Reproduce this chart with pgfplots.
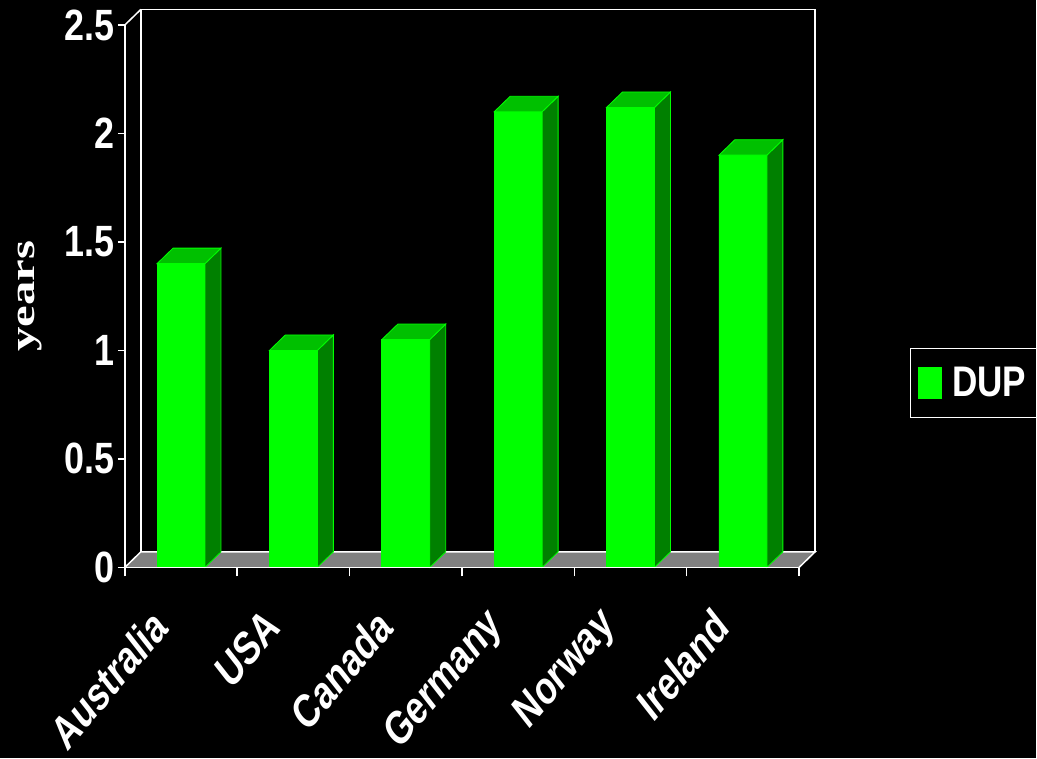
\documentclass[border=0pt]{standalone}
\usepackage{pgfplots}
\pgfplotsset{compat=1.18}
\usepackage{pgfplotstable}
\usepackage{fontspec}
\setmainfont{Liberation Sans}[FakeStretch=0.82]
\newfontfamily\catfont{Liberation Sans}[FakeStretch=0.87, FakeSlant=0.21]
\newfontfamily\serifbold{Liberation Serif}[FakeStretch=1.4]

\definecolor{barfront}{HTML}{00FF00}
\definecolor{bartop}{HTML}{00C000}
\definecolor{barside}{HTML}{008000}
\definecolor{floorgray}{HTML}{808080}

% mean duration of untreated psychosis, in years
\pgfplotstableread{
idx val
0 1.40
1 1.00
2 1.05
3 2.10
4 2.12
5 1.90
}\dupdata

% bar half-width and depth offset of the 3-D look, in axis units
\newcommand\bhw{0.2133}
\newcommand\bdx{0.142}
\newcommand\bdy{0.0714}

\begin{document}
\begin{tikzpicture}
\fill[black] (-125bp,-191bp) rectangle (912bp,568bp);
\begin{axis}[
  at={(0,0)}, anchor=south west,
  scale only axis, width=675bp, height=543bp,
  xmin=-0.5, xmax=5.5, ymin=0, ymax=2.5,
  clip=false,
  axis lines*=left,
  axis line style={draw=none},
  xtick={0,...,5},
  xticklabels={Australia,USA,Canada,Germany,Norway,Ireland},
  minor xtick={-0.5,0.5,1.5,2.5,3.5,4.5,5.5},
  ytick={0,0.5,1,1.5,2,2.5},
  tick align=outside,
  major tick length=7bp,
  minor tick length=9bp,
  tick style={white, line width=1.5bp},
  major x tick style={draw=none},
  minor x tick style={white, line width=1.5bp},
  /pgf/number format/assume math mode=true,
  yticklabel style={text=white, font=\bfseries\fontsize{44}{44}\selectfont, inner xsep=3bp},
  xticklabel style={xshift=-23bp, yshift=-46bp, rotate=50, anchor=east, inner sep=0pt,
    text=white, font=\catfont\bfseries\fontsize{43}{43}\selectfont},
  ylabel={years},
  ylabel style={at={(axis description cs:-0.141,0.5)}, anchor=center,
    text=white, font=\serifbold\bfseries\fontsize{35}{35}\selectfont},
  legend style={at={(axis description cs:1.164,0.34)}, anchor=west,
    draw=white, line width=1.5bp, fill=black, text=white,
    font=\bfseries\fontsize{43}{43}\selectfont, inner xsep=8bp, inner ysep=17bp},
]
% floor
\fill[floorgray] (axis cs:-0.5,0) -- (axis cs:5.5,0) -- (axis cs:5.5+\bdx,\bdy)
  -- (axis cs:-0.5+\bdx,\bdy) -- cycle;
% back wall edges
\draw[white, line width=1.5bp] (axis cs:-0.5,0) -- (axis cs:-0.5+\bdx,\bdy)
  -- (axis cs:5.5+\bdx,\bdy) -- (axis cs:5.5,0);
\draw[white, line width=1.5bp] (axis cs:-0.5+\bdx,\bdy) -- (axis cs:-0.5+\bdx,2.5+\bdy)
  -- (axis cs:5.5+\bdx,2.5+\bdy) -- (axis cs:5.5+\bdx,\bdy);
\draw[white, line width=1.5bp] (axis cs:-0.5,2.5) -- (axis cs:-0.5+\bdx,2.5+\bdy);

% front faces
\addplot[ybar, bar width=0.4267, fill=barfront, draw=barfront, line width=0.8bp,
  legend image code/.code={\fill[barfront] (0bp,-15.5bp) rectangle (23bp,15.5bp);
    \path (31bp,0bp);}]
  table[x=idx, y=val] {\dupdata};
\addlegendentry{DUP}

% side and top faces
\pgfplotsforeachungrouped \i in {0,...,5}{
  \pgfplotstablegetelem{\i}{val}\of\dupdata
  \pgfmathsetmacro\v{\pgfplotsretval}
  \pgfmathsetmacro\xl{\i-\bhw}
  \pgfmathsetmacro\xr{\i+\bhw}
  \pgfmathsetmacro\xlb{\i-\bhw+\bdx}
  \pgfmathsetmacro\xrb{\i+\bhw+\bdx}
  \pgfmathsetmacro\vb{\v+\bdy}
  \edef\doplot{%
    \noexpand\addplot[forget plot, fill=barside, draw=barfront, line width=0.8bp]
      coordinates {(\xr,0) (\xrb,\bdy) (\xrb,\vb) (\xr,\v)} -- cycle;
    \noexpand\addplot[forget plot, fill=bartop, draw=barfront, line width=0.8bp]
      coordinates {(\xl,\v) (\xr,\v) (\xrb,\vb) (\xlb,\vb)} -- cycle;}
  \doplot
}

% front axis lines
\draw[white, line width=1.5bp] (axis cs:-0.5,2.5) -- (axis cs:-0.5,0) -- (axis cs:5.5,0);
\end{axis}
\end{tikzpicture}
\end{document}
